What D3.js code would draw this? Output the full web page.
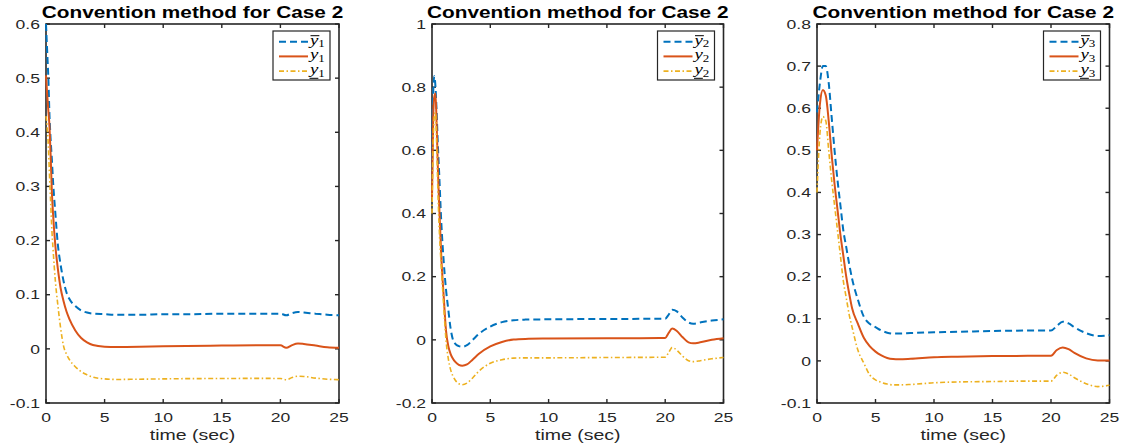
<!DOCTYPE html>
<html>
<head>
<meta charset="utf-8">
<script src="https://cdn.jsdelivr.net/npm/d3@7"></script>
<style>
  body { margin: 0; background: #fff; }
  svg { display: block; }
</style>
</head>
<body>
<svg id="chart"></svg>
<script>
// values
var xTicks = [0, 5, 10, 15, 20, 25];

var time1 = [0, 0.1, 0.2, 0.3, 0.4, 0.5, 0.6, 0.8, 1.0, 1.25, 1.5, 1.75, 2, 2.5, 3, 3.5, 4, 5, 6, 8, 10, 12, 15, 18, 20, 20.5, 21, 21.5, 22, 23, 24, 25];
var upper1 = [0.60, 0.55, 0.50, 0.43, 0.385, 0.35, 0.31, 0.25, 0.195, 0.155, 0.125, 0.104, 0.092, 0.079, 0.071, 0.067, 0.065, 0.064, 0.063, 0.063, 0.064, 0.064, 0.065, 0.065, 0.065, 0.062, 0.066, 0.068, 0.067, 0.065, 0.063, 0.062];
var mid1 = [0.505, 0.47, 0.44, 0.41, 0.355, 0.29, 0.25, 0.19, 0.15, 0.112, 0.088, 0.069, 0.055, 0.034, 0.02, 0.012, 0.007, 0.004, 0.0035, 0.004, 0.005, 0.0055, 0.006, 0.0065, 0.0065, 0.002, 0.007, 0.0098, 0.009, 0.006, 0.003, 0.002];
var lower1 = [0.43, 0.41, 0.375, 0.32, 0.27, 0.22, 0.185, 0.125, 0.083, 0.038, 0.005, -0.01, -0.02, -0.033, -0.042, -0.048, -0.052, -0.0555, -0.0565, -0.056, -0.0555, -0.055, -0.0548, -0.0545, -0.0548, -0.057, -0.053, -0.0506, -0.051, -0.054, -0.056, -0.057];
var yTicks1 = [-0.1, 0, 0.1, 0.2, 0.3, 0.4, 0.5, 0.6];

var time2 = [0, 0.1, 0.2, 0.3, 0.4, 0.5, 0.6, 0.8, 1.0, 1.2, 1.4, 1.6, 1.8, 2.0, 2.3, 2.6, 3.0, 3.5, 4, 5, 6, 7, 8, 10, 15, 20, 20.3, 20.6, 21, 21.5, 22, 22.4, 23, 24, 25];
var upper2 = [0.50, 0.78, 0.835, 0.80, 0.72, 0.62, 0.54, 0.37, 0.25, 0.16, 0.095, 0.035, 0.0, -0.013, -0.02, -0.022, -0.017, 0.0, 0.018, 0.042, 0.056, 0.062, 0.064, 0.065, 0.066, 0.067, 0.08, 0.095, 0.09, 0.07, 0.055, 0.051, 0.055, 0.061, 0.065];
var mid2 = [0.45, 0.70, 0.77, 0.78, 0.68, 0.55, 0.44, 0.26, 0.14, 0.03, -0.02, -0.045, -0.06, -0.07, -0.079, -0.082, -0.078, -0.062, -0.045, -0.021, -0.007, 0.001, 0.003, 0.004, 0.005, 0.0057, 0.022, 0.036, 0.028, 0.008, -0.008, -0.011, -0.008, 0.0, 0.005];
var lower2 = [0.40, 0.62, 0.71, 0.72, 0.62, 0.48, 0.37, 0.23, 0.11, 0.0, -0.06, -0.095, -0.115, -0.128, -0.139, -0.142, -0.137, -0.12, -0.1, -0.074, -0.063, -0.058, -0.057, -0.057, -0.056, -0.055, -0.04, -0.024, -0.033, -0.052, -0.066, -0.069, -0.066, -0.06, -0.056];
var yTicks2 = [-0.2, 0, 0.2, 0.4, 0.6, 0.8, 1];

var time3 = [0, 0.25, 0.5, 0.75, 1.0, 1.25, 1.5, 1.75, 2, 2.25, 2.5, 2.75, 3, 3.5, 4, 4.5, 5, 5.5, 6, 6.5, 7, 8, 10, 12, 15, 18, 20, 20.5, 21, 21.5, 22, 23, 24, 25];
var upper3 = [0.59, 0.66, 0.70, 0.70, 0.66, 0.58, 0.50, 0.43, 0.37, 0.31, 0.27, 0.23, 0.195, 0.145, 0.105, 0.088, 0.08, 0.072, 0.067, 0.065, 0.065, 0.066, 0.068, 0.069, 0.071, 0.072, 0.072, 0.083, 0.093, 0.089, 0.08, 0.066, 0.059, 0.061];
var mid3 = [0.50, 0.61, 0.643, 0.63, 0.57, 0.49, 0.42, 0.36, 0.30, 0.25, 0.20, 0.16, 0.125, 0.088, 0.055, 0.035, 0.022, 0.013, 0.007, 0.0045, 0.004, 0.005, 0.0085, 0.010, 0.0115, 0.012, 0.012, 0.026, 0.032, 0.028, 0.019, 0.006, 0.001, 0.001];
var lower3 = [0.40, 0.54, 0.58, 0.57, 0.50, 0.43, 0.37, 0.31, 0.25, 0.19, 0.15, 0.11, 0.08, 0.025, -0.005, -0.033, -0.045, -0.051, -0.055, -0.057, -0.057, -0.056, -0.052, -0.050, -0.049, -0.048, -0.048, -0.034, -0.027, -0.031, -0.040, -0.054, -0.061, -0.058];
var yTicks3 = [-0.1, 0, 0.1, 0.2, 0.3, 0.4, 0.5, 0.6, 0.7, 0.8];

var titleText = "Convention method for Case 2";
var xLabelText = "time (sec)";

// line styles: upper bound, output, lower bound
var styles = [
  { color: "#0072BD", dash: "7,4", width: 2 },
  { color: "#D95319", dash: null, width: 2 },
  { color: "#EDB120", dash: "5,2.5,1.5,2.5", width: 1.6 }
];

var width = 1127;
var height = 448;
var SX = 1.3; // the picture is stretched sideways, text follows it
var axisColor = "#262626";
var axTop = 24, axBottom = 403;

var svg = d3.select("#chart")
  .attr("width", width)
  .attr("height", height);

// put a text at x,y with the horizontal stretch
function placeText(sel, x, y) {
  return sel.attr("transform", "translate(" + x + "," + y + ") scale(" + SX + ",1)");
}

function fmt(v) {
  return String(+v.toFixed(2));
}

function drawPanel(p) {
  var g = svg.append("g");

  var x = d3.scaleLinear().domain([0, 25]).range([p.left, p.right]);
  var y = d3.scaleLinear().domain([p.yTicks[0], p.yTicks[p.yTicks.length - 1]]).range([axBottom, axTop]);
  var tl = 4;

  // box
  g.append("rect")
    .attr("x", p.left).attr("y", axTop)
    .attr("width", p.right - p.left).attr("height", axBottom - axTop)
    .attr("fill", "none").attr("stroke", axisColor).attr("stroke-width", 1.6);

  // ticks inside, on all four sides
  xTicks.forEach(function (t) {
    g.append("line").attr("x1", x(t)).attr("x2", x(t)).attr("y1", axBottom).attr("y2", axBottom - tl)
      .attr("stroke", axisColor).attr("stroke-width", 1.4);
    g.append("line").attr("x1", x(t)).attr("x2", x(t)).attr("y1", axTop).attr("y2", axTop + tl)
      .attr("stroke", axisColor).attr("stroke-width", 1.4);
    placeText(g.append("text"), x(t), axBottom + 19)
      .attr("text-anchor", "middle")
      .attr("font-family", "Liberation Sans, Arial, sans-serif")
      .attr("font-size", 13.5)
      .attr("fill", axisColor)
      .text(fmt(t));
  });
  p.yTicks.forEach(function (t) {
    g.append("line").attr("x1", p.left).attr("x2", p.left + tl).attr("y1", y(t)).attr("y2", y(t))
      .attr("stroke", axisColor).attr("stroke-width", 1.4);
    g.append("line").attr("x1", p.right).attr("x2", p.right - tl).attr("y1", y(t)).attr("y2", y(t))
      .attr("stroke", axisColor).attr("stroke-width", 1.4);
    placeText(g.append("text"), p.left - 6, y(t) + 4.7)
      .attr("text-anchor", "end")
      .attr("font-family", "Liberation Sans, Arial, sans-serif")
      .attr("font-size", 13.5)
      .attr("fill", axisColor)
      .text(fmt(t));
  });

  // title and x label
  placeText(g.append("text"), (p.left + p.right) / 2, 18.3)
    .attr("text-anchor", "middle")
    .attr("font-family", "Liberation Sans, Arial, sans-serif")
    .attr("font-weight", "bold")
    .attr("font-size", 16)
    .attr("fill", "#000")
    .text(titleText);
  placeText(g.append("text"), (p.left + p.right) / 2, 439.5)
    .attr("text-anchor", "middle")
    .attr("font-family", "Liberation Sans, Arial, sans-serif")
    .attr("font-size", 15)
    .attr("fill", axisColor)
    .text(xLabelText);

  // the three curves
  var line = d3.line()
    .x(function (d) { return x(d[0]); })
    .y(function (d) { return y(d[1]); })
    .curve(d3.curveMonotoneX);

  p.series.forEach(function (vals, i) {
    var pts = p.time.map(function (t, k) { return [t, vals[k]]; });
    g.append("path")
      .attr("d", line(pts))
      .attr("fill", "none")
      .attr("stroke", styles[i].color)
      .attr("stroke-width", styles[i].width)
      .attr("stroke-dasharray", styles[i].dash)
      .attr("stroke-linejoin", "round");
  });

  // legend
  var lx = p.right - 66, ly = 31, lw = 57, lh = 49;
  g.append("rect")
    .attr("x", lx).attr("y", ly).attr("width", lw).attr("height", lh)
    .attr("fill", "#fff").attr("stroke", axisColor).attr("stroke-width", 1.2);

  [0, 1, 2].forEach(function (i) {
    var ry = ly + 10.7 + i * 14.7;
    g.append("line")
      .attr("x1", lx + 6).attr("x2", lx + 35).attr("y1", ry).attr("y2", ry)
      .attr("stroke", styles[i].color)
      .attr("stroke-width", styles[i].width)
      .attr("stroke-dasharray", styles[i].dash);

    var tx = lx + 37;
    var txt = placeText(g.append("text"), tx, ry + 3)
      .attr("font-family", "Liberation Serif, Times New Roman, serif")
      .attr("font-size", 14.5)
      .attr("fill", "#000");
    txt.append("tspan").attr("font-style", "italic").text("y");
    txt.append("tspan").attr("font-size", 10).attr("dy", 2.5).text(p.idx);

    var yw = txt.node().getSubStringLength(0, 1) * SX;
    if (i === 0) {
      g.append("line").attr("x1", tx + 0.5).attr("x2", tx + yw + 1).attr("y1", ry - 6).attr("y2", ry - 6)
        .attr("stroke", "#000").attr("stroke-width", 1);
    }
    if (i === 2) {
      g.append("line").attr("x1", tx - 0.5).attr("x2", tx + yw).attr("y1", ry + 7.2).attr("y2", ry + 7.2)
        .attr("stroke", "#000").attr("stroke-width", 1);
    }
  });
}

drawPanel({ left: 46, right: 339, yTicks: yTicks1, time: time1, series: [upper1, mid1, lower1], idx: "1" });
drawPanel({ left: 432, right: 723.5, yTicks: yTicks2, time: time2, series: [upper2, mid2, lower2], idx: "2" });
drawPanel({ left: 817, right: 1109.5, yTicks: yTicks3, time: time3, series: [upper3, mid3, lower3], idx: "3" });
</script>
</body>
</html>
